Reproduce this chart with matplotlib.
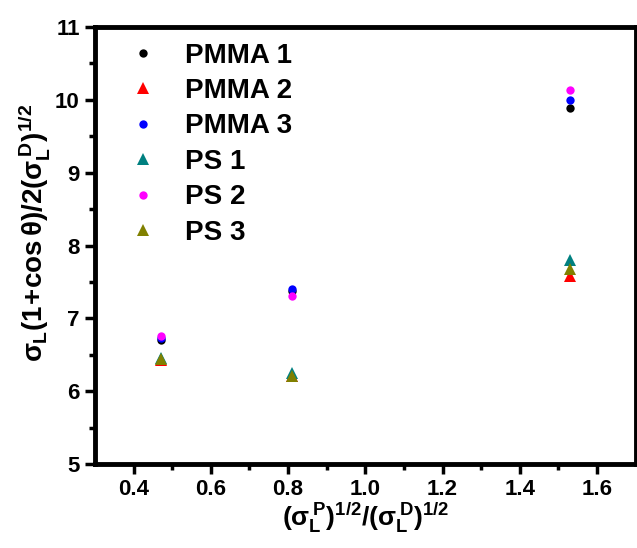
import matplotlib
matplotlib.use("Agg")
import matplotlib.pyplot as plt

# Surface-energy plot data: x = (sigma_L^P)^1/2/(sigma_L^D)^1/2
x_vals = [0.47, 0.81, 1.53]

series_names = ["PMMA 1", "PMMA 2", "PMMA 3", "PS 1", "PS 2", "PS 3"]
pmma1 = [6.70, 7.37, 9.89]
pmma2 = [6.43, 6.21, 7.58]
pmma3 = [6.73, 7.41, 10.00]
ps1 = [6.46, 6.25, 7.80]
ps2 = [6.76, 7.31, 10.14]
ps3 = [6.44, 6.21, 7.68]

series_values = [pmma1, pmma2, pmma3, ps1, ps2, ps3]
colors = ["#000000", "#ff0000", "#0000ff", "#008080", "#ff00ff", "#808000"]
markers = ["o", "^", "o", "^", "o", "^"]

plt.rcParams["font.family"] = ["Liberation Sans", "DejaVu Sans"]
plt.rcParams["font.weight"] = "bold"
plt.rcParams["mathtext.fontset"] = "custom"
plt.rcParams["mathtext.rm"] = "Liberation Sans:bold"
plt.rcParams["mathtext.it"] = "Liberation Sans:bold"
plt.rcParams["mathtext.bf"] = "Liberation Sans:bold"
plt.rcParams["mathtext.sf"] = "Liberation Sans:bold"

fig = plt.figure(figsize=(6.37, 5.48), dpi=100)
ax = fig.add_axes([0.149, 0.153, 0.849, 0.798])

for name, vals, c, m in zip(series_names, series_values, colors, markers):
    ms = 6.0 if m == "o" else 8.0
    ax.plot(x_vals, vals, linestyle="none", marker=m, color=c, markersize=ms,
            markeredgewidth=0, label=name, clip_on=False)

ax.set_xlim(0.3, 1.7)
ax.set_ylim(5, 11)
ax.set_xticks([0.4, 0.6, 0.8, 1.0, 1.2, 1.4, 1.6])
ax.set_xticks([0.5, 0.7, 0.9, 1.1, 1.3, 1.5], minor=True)
ax.set_yticks([5, 6, 7, 8, 9, 10, 11])
ax.set_yticks([5.5, 6.5, 7.5, 8.5, 9.5, 10.5], minor=True)
ax.set_xticklabels(["0.4", "0.6", "0.8", "1.0", "1.2", "1.4", "1.6"])
ax.set_yticklabels(["5", "6", "7", "8", "9", "10", "11"])

for sp in ax.spines.values():
    sp.set_linewidth(3.5)

ax.tick_params(axis="both", which="major", direction="out", length=7, width=2.5,
               labelsize=16, pad=4)
ax.tick_params(axis="both", which="minor", direction="out", length=4, width=2.5)
for lbl in ax.get_xticklabels() + ax.get_yticklabels():
    lbl.set_fontweight("bold")

ax.set_xlabel(r"$(\sigma_L^{\,P})^{1/2}/(\sigma_L^{\,D})^{1/2}$", fontsize=19, labelpad=0)
ax.set_ylabel(r"$\sigma_L(1\!+\!\cos\theta)/2(\sigma_L^{\,D})^{1/2}$", fontsize=20, labelpad=2)
ax.yaxis.label.set_y(0.53)

leg = ax.legend(loc="upper left", bbox_to_anchor=(0.063, 0.964), frameon=False,
                prop={"size": 20, "weight": "bold"}, handlelength=1.0,
                handletextpad=1.0, labelspacing=0.34, borderaxespad=0.0,
                borderpad=0.0)

fig.savefig("out.png", dpi=100)
